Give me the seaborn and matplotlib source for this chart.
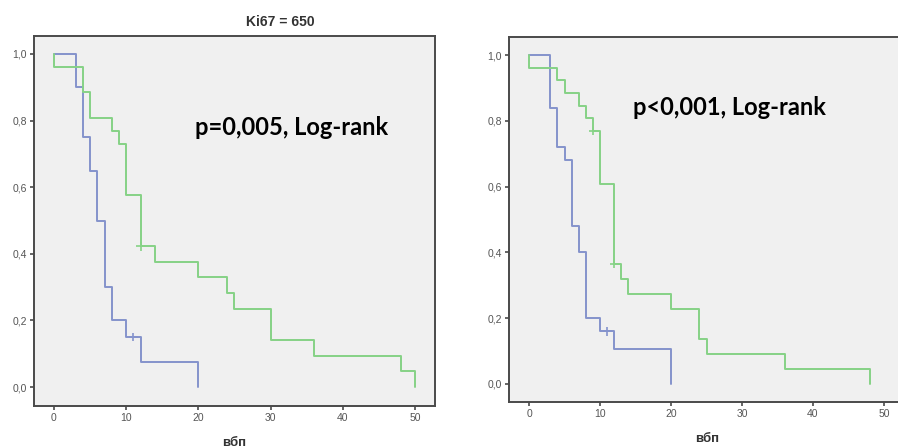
import numpy as np
import pandas as pd
import matplotlib
matplotlib.use('Agg')
import matplotlib.pyplot as plt
import seaborn as sns
from matplotlib.transforms import Bbox

# --- Data: Kaplan-Meier step points (time, survival) ---
# left panel
left_blue_t = [0, 3, 4, 5, 6, 7, 8, 10, 12, 20]
left_blue_s = [1.0, 0.90, 0.75, 0.65, 0.50, 0.30, 0.20, 0.15, 0.075, 0.0]
left_green_t = [0, 0, 4, 5, 8, 9, 10, 12, 14, 20, 24, 25, 30, 36, 48, 50]
left_green_s = [1.0, 0.962, 0.885, 0.808, 0.769, 0.731, 0.577, 0.423, 0.376,
                0.329, 0.282, 0.235, 0.141, 0.094, 0.047, 0.0]
left_cens_t = [11, 12]
left_cens_s = [0.15, 0.423]
left_cens_g = ['blue', 'green']

# right panel
right_blue_t = [0, 3, 4, 5, 6, 7, 8, 10, 12, 20]
right_blue_s = [1.0, 0.84, 0.72, 0.68, 0.48, 0.40, 0.20, 0.16, 0.107, 0.0]
right_green_t = [0, 0, 4, 5, 7, 8, 9, 10, 12, 13, 14, 20, 24, 25, 36, 48]
right_green_s = [1.0, 0.962, 0.923, 0.885, 0.846, 0.808, 0.769, 0.608, 0.365,
                 0.319, 0.273, 0.228, 0.137, 0.091, 0.045, 0.0]
right_cens_t = [11, 9, 12]
right_cens_s = [0.16, 0.769, 0.365]
right_cens_g = ['blue', 'green', 'green']

x_ticks = [0, 10, 20, 30, 40, 50]
y_ticks = [0.0, 0.2, 0.4, 0.6, 0.8, 1.0]
y_tick_labels = ['0,0', '0,2', '0,4', '0,6', '0,8', '1,0']

palette = {'blue': '#8593cc', 'green': '#86d286'}

sns.set_style('white', {'axes.facecolor': '#f0f0f0', 'axes.edgecolor': '#4a4a4a'})
plt.rcParams['font.family'] = ['Liberation Sans', 'DejaVu Sans']

fig = plt.figure(figsize=(8.98, 4.48), dpi=100)
ax1 = fig.add_axes([34 / 898, 42 / 448, 401 / 898, 370 / 448])
ax2 = fig.add_axes([509 / 898, 46 / 448, 396 / 898, 365 / 448])


def draw_panel(ax, bt, bs, gt, gs, ct, cs, cg, xlim, ylim, ptext, pxy):
    curves = pd.concat([
        pd.DataFrame({'t': bt, 's': bs, 'g': 'blue'}),
        pd.DataFrame({'t': gt, 's': gs, 'g': 'green'}),
    ], ignore_index=True)
    sns.lineplot(data=curves, x='t', y='s', hue='g', palette=palette,
                 estimator=None, sort=False, drawstyle='steps-post',
                 linewidth=1.4, legend=False, ax=ax)
    cens = pd.DataFrame({'t': ct, 's': cs, 'g': cg})
    sns.scatterplot(data=cens, x='t', y='s', hue='g', palette=palette,
                    marker='+', s=40, linewidth=1.2, legend=False, ax=ax)
    ax.set_xlim(*xlim)
    ax.set_ylim(*ylim)
    ax.set_xticks(x_ticks)
    ax.set_yticks(y_ticks)
    ax.set_yticklabels(y_tick_labels)
    ax.tick_params(direction='out', length=3, width=1.2, color='#4a4a4a',
                   labelsize=7.5, labelcolor='#555555', pad=2,
                   left=True, bottom=True)
    for sp in ax.spines.values():
        sp.set_linewidth(1.4)
        sp.set_color('#4a4a4a')
    ax.set_xlabel('вбп', fontsize=9.5, fontweight='bold', color='#333333', labelpad=10)
    ax.set_ylabel('')
    ax.text(pxy[0], pxy[1], ptext, fontsize=17, fontweight='bold',
            family=['Lato', 'DejaVu Sans'], va='center', ha='left', color='black')


draw_panel(ax1, left_blue_t, left_blue_s, left_green_t, left_green_s,
           left_cens_t, left_cens_s, left_cens_g,
           (-2.77, 52.77), (-0.057, 1.054), 'p=0,005, Log-rank', (19.5, 0.78))
draw_panel(ax2, right_blue_t, right_blue_s, right_green_t, right_green_s,
           right_cens_t, right_cens_s, right_cens_g,
           (-2.82, 52.96), (-0.055, 1.055), 'p<0,001, Log-rank', (14.6, 0.842))

fig.text(280 / 898, 1 - 22 / 448, 'Ki67 = 650', ha='center', va='center',
         fontsize=10, fontweight='bold', color='#333333')

# right title is cut off in the source picture: only its lowest pixels show
t2 = fig.text(740 / 898, 1 - 25 / 448, 'Ki67 = 650', ha='center', va='center',
              fontsize=10, fontweight='bold', color='#333333')
t2.set_clip_box(Bbox([[0, 0], [898, 448 - 30.5]]))
t2.set_clip_on(True)

fig.savefig('out.png', dpi=100)
